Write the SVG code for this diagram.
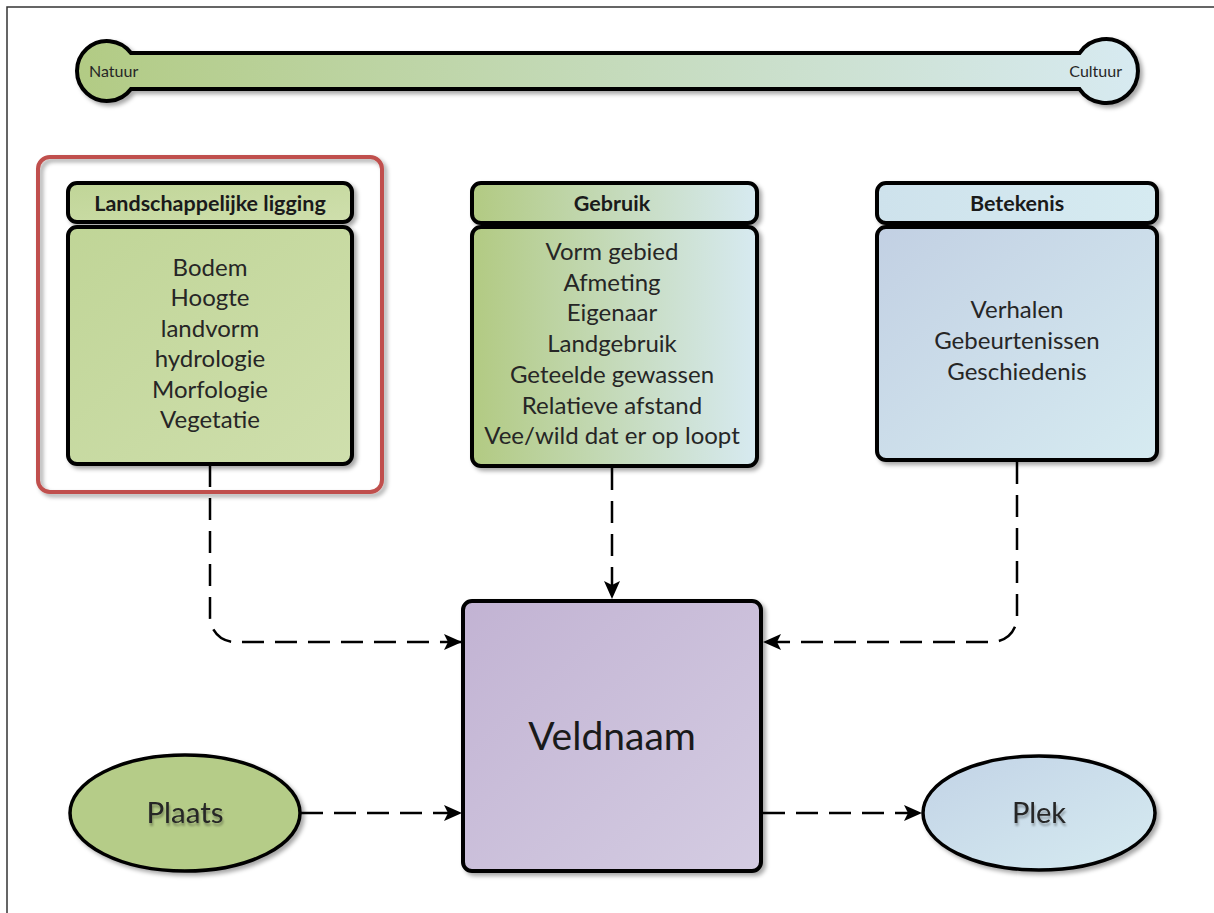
<svg xmlns="http://www.w3.org/2000/svg" width="1214" height="913" viewBox="0 0 1214 913">
<style>
.box{stroke:#000;stroke-width:4}
.hd{font-family:Lato,"Liberation Sans",sans-serif;font-weight:bold;font-size:21.5px;fill:#1a1a1a;text-anchor:middle}
.bd{font-family:Lato,"Liberation Sans",sans-serif;font-size:24px;fill:#262626;text-anchor:middle}
.conn{fill:none;stroke:#000;stroke-width:2.5;stroke-dasharray:22 11}
.sm{font-family:Lato,"Liberation Sans",sans-serif;font-size:16px;fill:#262626}
</style>
<defs>
<filter id="sh" x="-10%" y="-10%" width="130%" height="130%"><feDropShadow dx="3" dy="3" stdDeviation="2" flood-color="#000" flood-opacity="0.35"/></filter>
<filter id="tsh" x="-10%" y="-20%" width="130%" height="160%"><feDropShadow dx="1" dy="3" stdDeviation="1" flood-color="#000" flood-opacity="0.3"/></filter>
<linearGradient id="gBar" gradientUnits="userSpaceOnUse" x1="75" y1="0" x2="1140" y2="0"><stop offset="0" stop-color="#b2cb84"/><stop offset="1" stop-color="#d7eaf1"/></linearGradient>
<linearGradient id="gLand" x1="0" y1="0" x2="1" y2="1"><stop offset="0" stop-color="#c0d597"/><stop offset="1" stop-color="#cfdfad"/></linearGradient>
<linearGradient id="gGeb" x1="0" y1="0" x2="1" y2="0"><stop offset="0" stop-color="#b2ca82"/><stop offset="1" stop-color="#d7eaf1"/></linearGradient>
<linearGradient id="gBet" x1="0" y1="0" x2="1" y2="1"><stop offset="0" stop-color="#c2d0e3"/><stop offset="1" stop-color="#d6ebf1"/></linearGradient>
<linearGradient id="gBetH" x1="0" y1="0" x2="1" y2="0"><stop offset="0" stop-color="#cee2ec"/><stop offset="1" stop-color="#d6ebf1"/></linearGradient>
<linearGradient id="gVeld" x1="0" y1="0" x2="1" y2="1"><stop offset="0" stop-color="#c2b3d3"/><stop offset="1" stop-color="#d4cce2"/></linearGradient>
<linearGradient id="gPlek" x1="0" y1="0" x2="1" y2="1"><stop offset="0" stop-color="#c2d3e6"/><stop offset="1" stop-color="#d6ebf1"/></linearGradient>
<marker id="arr" markerUnits="userSpaceOnUse" markerWidth="20" markerHeight="16" refX="18" refY="8" orient="auto"><path d="M0,0 L18,8 L0,16 L4,8 Z" fill="#000"/></marker>
</defs>
<rect width="1214" height="913" fill="#fff"/>
<path d="M7,913 V7 H1214" fill="none" stroke="#333" stroke-width="1.5"/>

<g id="scale">
<path d="M131,53 H1079.5 A32 32 0 1 1 1079.5,89 H131 A30 30 0 1 1 131,53 Z" fill="url(#gBar)" stroke="#000" stroke-width="4" filter="url(#sh)"/>
<text class="sm" x="89" y="77">Natuur</text>
<text class="sm" x="1122" y="77" text-anchor="end">Cultuur</text>
</g>

<g id="highlight">
<rect x="38" y="157" width="344" height="335" rx="12" fill="none" stroke="#c0504d" stroke-width="4" filter="url(#sh)"/>
</g>

<g id="landschappelijke">
<rect class="box" x="68" y="183" width="284" height="39" rx="9" fill="url(#gLand)" filter="url(#sh)"/>
<rect class="box" x="68" y="227" width="284" height="237" rx="9" fill="url(#gLand)" filter="url(#sh)"/>
<text class="hd" x="210" y="211">Landschappelijke ligging</text>
<text class="bd" x="210" y="276">Bodem</text>
<text class="bd" x="210" y="306">Hoogte</text>
<text class="bd" x="210" y="337">landvorm</text>
<text class="bd" x="210" y="367">hydrologie</text>
<text class="bd" x="210" y="398">Morfologie</text>
<text class="bd" x="210" y="428">Vegetatie</text>
</g>

<g id="gebruik">
<rect class="box" x="472" y="183" width="285" height="40" rx="9" fill="url(#gGeb)" filter="url(#sh)"/>
<rect class="box" x="472" y="227" width="285" height="239" rx="9" fill="url(#gGeb)" filter="url(#sh)"/>
<text class="hd" x="612" y="211">Gebruik</text>
<text class="bd" x="612" y="260">Vorm gebied</text>
<text class="bd" x="612" y="291">Afmeting</text>
<text class="bd" x="612" y="321">Eigenaar</text>
<text class="bd" x="612" y="352">Landgebruik</text>
<text class="bd" x="612" y="383">Geteelde gewassen</text>
<text class="bd" x="612" y="414">Relatieve afstand</text>
<text class="bd" x="612" y="444">Vee/wild dat er op loopt</text>
</g>

<g id="betekenis">
<rect class="box" x="877" y="183" width="280" height="40" rx="9" fill="url(#gBetH)" filter="url(#sh)"/>
<rect class="box" x="877" y="227" width="280" height="233" rx="9" fill="url(#gBet)" filter="url(#sh)"/>
<text class="hd" x="1017" y="211">Betekenis</text>
<text class="bd" x="1017" y="318">Verhalen</text>
<text class="bd" x="1017" y="349">Gebeurtenissen</text>
<text class="bd" x="1017" y="380">Geschiedenis</text>
</g>

<g id="veldnaam">
<rect class="box" x="463" y="601" width="298" height="270" rx="9" fill="url(#gVeld)" filter="url(#sh)"/>
<text x="612" y="750" font-family="Lato,'Liberation Sans',sans-serif" font-size="39" fill="#1a1a1a" text-anchor="middle">Veldnaam</text>
</g>

<g id="plaats">
<ellipse cx="185" cy="813" rx="115" ry="58" fill="#b5cc88" stroke="#000" stroke-width="3.5" filter="url(#sh)"/>
<text x="185" y="823" font-family="Lato,'Liberation Sans',sans-serif" font-size="29.5" fill="#262626" text-anchor="middle" filter="url(#tsh)">Plaats</text>
</g>

<g id="plek">
<ellipse cx="1039" cy="813" rx="116" ry="57" fill="url(#gPlek)" stroke="#000" stroke-width="3.5" filter="url(#sh)"/>
<text x="1039" y="823" font-family="Lato,'Liberation Sans',sans-serif" font-size="29" fill="#262626" text-anchor="middle" filter="url(#tsh)">Plek</text>
</g>

<g id="connectors">
<path class="conn" d="M210,465 V617 A25 25 0 0 0 235,642 H462" marker-end="url(#arr)"/>
<path class="conn" d="M612,468 V599" marker-end="url(#arr)"/>
<path class="conn" d="M1017,462 V617 A25 25 0 0 1 992,642 H763" marker-end="url(#arr)"/>
<path class="conn" d="M301,813 H462" marker-end="url(#arr)"/>
<path class="conn" d="M763,813 H922" marker-end="url(#arr)"/>
</g>
</svg>
